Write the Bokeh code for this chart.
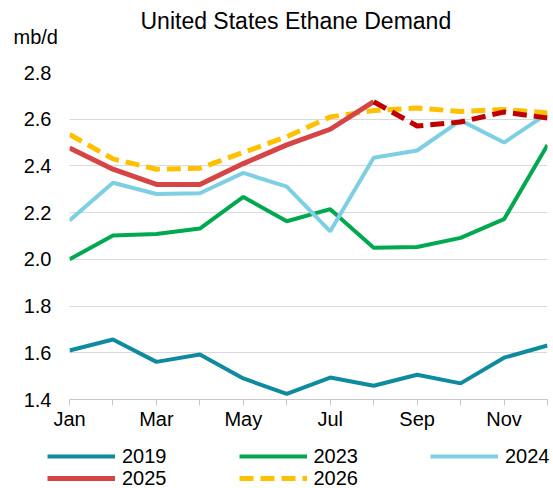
from bokeh.plotting import figure
from bokeh.models import FixedTicker, Legend, LegendItem, Label, Range1d
from bokeh.layouts import column
from bokeh.embed import file_html
from bokeh.resources import INLINE

months = ["Jan", "Feb", "Mar", "Apr", "May", "Jun", "Jul", "Aug", "Sep", "Oct", "Nov", "Dec"]
month_idx = list(range(1, 13))
y_ticks = [1.4, 1.6, 1.8, 2.0, 2.2, 2.4, 2.6, 2.8]
y_tick_labels = ["1.4", "1.6", "1.8", "2.0", "2.2", "2.4", "2.6", "2.8"]

y2019 = [1.61, 1.657, 1.561, 1.593, 1.49, 1.424, 1.494, 1.459, 1.506, 1.469, 1.579, 1.631]
y2023 = [2.00, 2.102, 2.109, 2.132, 2.267, 2.163, 2.215, 2.05, 2.053, 2.092, 2.172, 2.49]
y2024 = [2.166, 2.328, 2.28, 2.283, 2.37, 2.311, 2.12, 2.435, 2.466, 2.595, 2.50, 2.625]
x2025 = month_idx[:8]
y2025 = [2.477, 2.386, 2.321, 2.321, 2.41, 2.49, 2.557, 2.675]
x2025_fc = month_idx[7:]
y2025_fc = [2.675, 2.571, 2.588, 2.631, 2.605]
y2026 = [2.535, 2.43, 2.386, 2.39, 2.458, 2.525, 2.61, 2.637, 2.648, 2.633, 2.642, 2.627]

FONT = "Liberation Sans"
C2019, C2023, C2024, C2025, C2025FC, C2026 = "#0F8BA0", "#00A94F", "#7ECFE3", "#D64545", "#C00000", "#FFC000"
STYLES = {
    "2019": dict(line_color=C2019, line_width=4),
    "2023": dict(line_color=C2023, line_width=4),
    "2024": dict(line_color=C2024, line_width=4),
    "2025": dict(line_color=C2025, line_width=5),
    "2026": dict(line_color=C2026, line_width=5, line_dash="14 7"),
}

p = figure(width=553, height=432, output_backend="svg", toolbar_location=None,
           x_range=Range1d(1, 12), y_range=Range1d(1.4, 2.8),
           min_border_left=69, min_border_right=6, min_border_top=72, min_border_bottom=33)
p.frame_align = False
p.outline_line_color = None
p.background_fill_color = "white"
p.border_fill_color = "white"

# axes
p.xaxis.ticker = FixedTicker(ticks=month_idx)
p.xaxis.major_label_overrides = {m: (lab if i % 2 == 0 else "") for i, (m, lab) in enumerate(zip(month_idx, months))}
p.xaxis.axis_line_color = "#C8C8C8"
p.xaxis.major_tick_line_color = "#C8C8C8"
p.xaxis.major_tick_out = 6
p.xaxis.major_tick_in = 0
p.xaxis.minor_tick_line_color = None
p.xaxis.major_label_text_font = FONT
p.xaxis.major_label_text_font_size = "20px"
p.xaxis.major_label_text_color = "black"
p.xaxis.major_label_standoff = 2

p.yaxis.ticker = FixedTicker(ticks=y_ticks)
p.yaxis.major_label_overrides = {t: s for t, s in zip(y_ticks, y_tick_labels)}
p.yaxis.axis_line_color = None
p.yaxis.major_tick_line_color = None
p.yaxis.minor_tick_line_color = None
p.yaxis.major_tick_out = 0
p.yaxis.major_tick_in = 0
p.yaxis.major_label_text_font = FONT
p.yaxis.major_label_text_font_size = "20px"
p.yaxis.major_label_text_color = "black"
p.yaxis.major_label_standoff = 18

p.xgrid.grid_line_color = None
p.ygrid.grid_line_color = "#D9D9D9"
p.ygrid.grid_line_width = 1

p.line(month_idx, y2019, **STYLES["2019"])
p.line(month_idx, y2023, **STYLES["2023"])
p.line(month_idx, y2024, **STYLES["2024"])
p.line(month_idx, y2026, **STYLES["2026"])
p.line(x2025, y2025, **STYLES["2025"])
p.line(x2025_fc, y2025_fc, line_color=C2025FC, line_width=5, line_dash="14 7")

title = Label(x=71, y=52, x_units="screen", y_units="screen", text="United States Ethane Demand",
              text_font=FONT, text_font_size="23px", text_color="black",
              text_baseline="middle", text_align="left")
unit = Label(x=-56, y=10, x_units="screen", y_units="screen", text="mb/d",
             text_font=FONT, text_font_size="20px", text_color="black",
             text_baseline="middle", text_align="left")
p.add_layout(title, "above")
p.add_layout(unit, "above")

# legend strip (its own renderers use the same series, kept outside its visible range)
lf = figure(width=553, height=56, output_backend="svg", toolbar_location=None,
            x_range=Range1d(1, 12), y_range=Range1d(10, 11),
            x_axis_type=None, y_axis_type=None,
            min_border_left=0, min_border_right=0, min_border_top=0, min_border_bottom=0)
lf.frame_align = False
lf.outline_line_color = None
lf.xgrid.grid_line_color = None
lf.ygrid.grid_line_color = None
lf.background_fill_color = "white"
lf.border_fill_color = "white"

k2019 = lf.line(month_idx, y2019, **STYLES["2019"])
k2023 = lf.line(month_idx, y2023, **STYLES["2023"])
k2024 = lf.line(month_idx, y2024, **STYLES["2024"])
k2025 = lf.line(x2025, y2025, **STYLES["2025"])
k2026 = lf.line(month_idx, y2026, **STYLES["2026"])

def make_legend(items, y):
    return Legend(items=items, orientation="horizontal", location=(47, y),
                  glyph_width=68, glyph_height=24, label_height=24,
                  label_standoff=7, spacing=72, padding=0, margin=0,
                  label_text_font=FONT, label_text_font_size="20px", label_text_color="black",
                  label_text_baseline="middle",
                  border_line_color=None, background_fill_alpha=0)

leg1 = make_legend([LegendItem(label="2019", renderers=[k2019]),
                    LegendItem(label="2023", renderers=[k2023]),
                    LegendItem(label="2024", renderers=[k2024])], 20)
leg2 = make_legend([LegendItem(label="2025", renderers=[k2025]),
                    LegendItem(label="2026", renderers=[k2026])], -2)
lf.add_layout(leg1, "center")
lf.add_layout(leg2, "center")

layout = column(p, lf, spacing=0)
open("out.html", "w").write(file_html(layout, INLINE))
